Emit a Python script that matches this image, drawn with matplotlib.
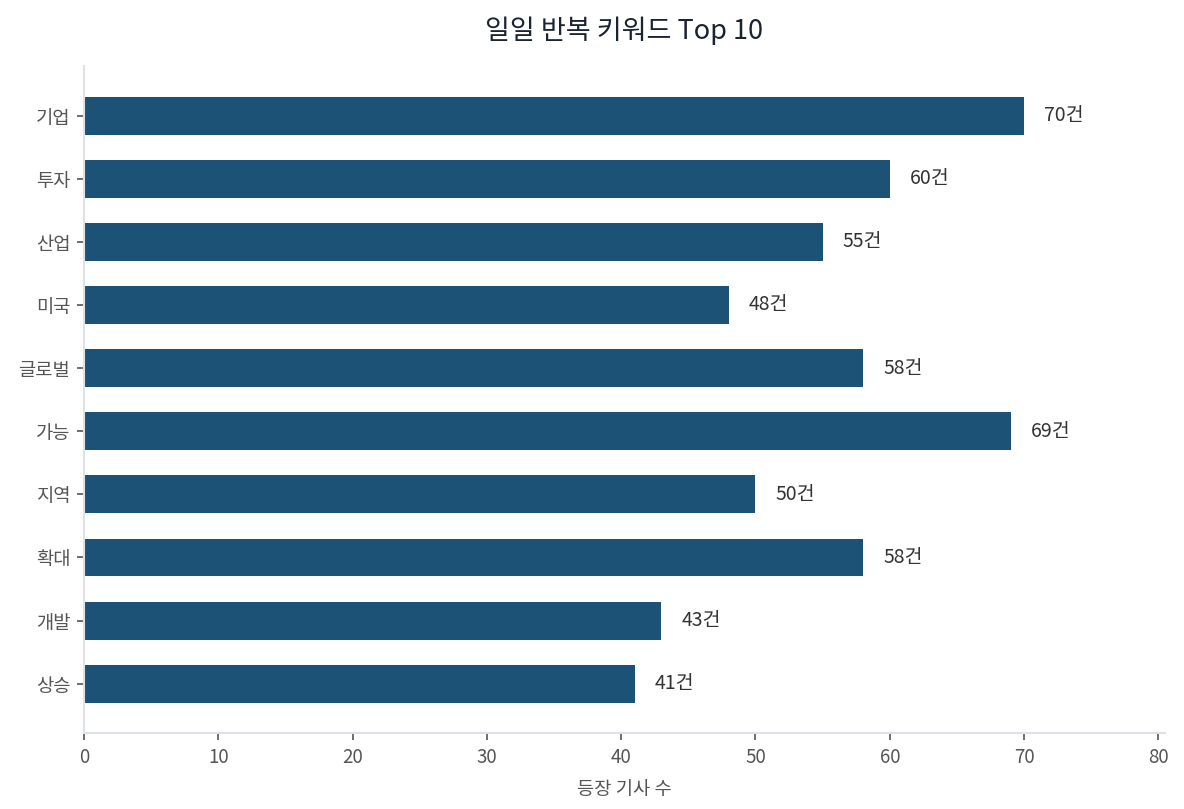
import matplotlib
matplotlib.use("Agg")
import matplotlib.pyplot as plt

plt.rcParams['font.family'] = ['Noto Sans CJK KR', 'DejaVu Sans']

keywords = ['기업', '투자', '산업', '미국', '글로벌', '가능', '지역', '확대', '개발', '상승']
counts = [70, 60, 55, 48, 58, 69, 50, 58, 43, 41]

bar_color = '#1b5276'
spine_color = '#dde2e7'

fig, ax = plt.subplots(figsize=(11.84, 8.09), dpi=100)
fig.subplots_adjust(left=0.071, right=0.984, top=0.918, bottom=0.094)

ypos = list(range(len(keywords)))
ax.barh(ypos, counts, height=0.6, color=bar_color)
ax.invert_yaxis()
ax.set_yticks(ypos)
ax.set_yticklabels(keywords)
ax.set_xlim(0, max(counts) * 1.15)

for y, c in zip(ypos, counts):
    ax.text(c + 1.5, y, f'{c}건', va='center', ha='left', fontsize=14, color='#333333')

ax.set_title('일일 반복 키워드 Top 10', fontsize=19.5, color='#1a2332', pad=20)
ax.set_xlabel('등장 기사 수', fontsize=13.5, color='#555555', labelpad=8)

for side in ['top', 'right']:
    ax.spines[side].set_visible(False)
for side in ['left', 'bottom']:
    ax.spines[side].set_color(spine_color)
    ax.spines[side].set_linewidth(1.5)

ax.tick_params(axis='both', colors='#555555', labelsize=13.5, length=5, width=1.2, pad=5)

fig.savefig('out.png', dpi=100)
